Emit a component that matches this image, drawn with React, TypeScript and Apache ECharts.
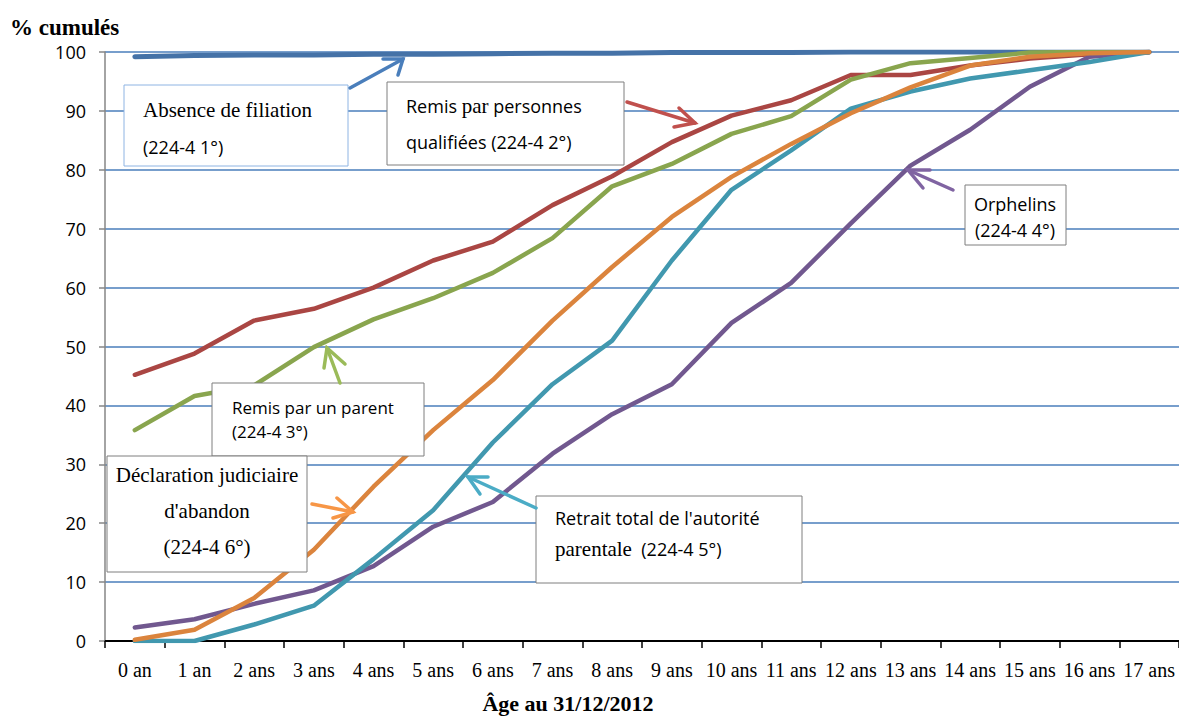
import React, { useEffect, useRef } from "react";
import * as echarts from "echarts";

const categories = ["0 an", "1 an", "2 ans", "3 ans", "4 ans", "5 ans", "6 ans", "7 ans", "8 ans", "9 ans", "10 ans", "11 ans", "12 ans", "13 ans", "14 ans", "15 ans", "16 ans", "17 ans"];
const yTicks = [0, 10, 20, 30, 40, 50, 60, 70, 80, 90, 100];

const absenceFiliation = [99.2, 99.4, 99.5, 99.5, 99.6, 99.6, 99.7, 99.8, 99.8, 99.9, 99.9, 99.9, 100, 100, 100, 100, 100, 100];
const personnesQualifiees = [45.2, 48.8, 54.4, 56.4, 60.0, 64.6, 67.8, 74.0, 78.9, 84.7, 89.2, 91.8, 96.1, 96.1, 97.7, 98.9, 99.6, 100];
const unParent = [35.8, 41.6, 43.4, 49.9, 54.6, 58.2, 62.5, 68.4, 77.2, 81.0, 86.1, 89.1, 95.3, 98.1, 99.0, 99.9, 100, 100];
const orphelins = [2.3, 3.7, 6.3, 8.6, 12.7, 19.4, 23.6, 31.8, 38.5, 43.6, 54.0, 60.8, 70.9, 80.7, 86.8, 94.1, 99.2, 100];
const retraitAutorite = [0, 0, 2.8, 6.0, 13.9, 22.2, 33.7, 43.6, 51.0, 64.6, 76.6, 83.3, 90.4, 93.3, 95.5, 96.9, 98.3, 100];
const declarationJudiciaire = [0.2, 1.9, 7.3, 15.5, 26.2, 35.8, 44.3, 54.4, 63.5, 72.0, 78.8, 84.4, 89.6, 94.0, 97.7, 99.2, 99.8, 100];

const SANS = "Open Sans";
const SERIF = "Liberation Serif";

function arrow(x1: number, y1: number, x2: number, y2: number, a1: [number, number], a2: [number, number], color: string) {
  return [
    { type: "line", z: 100, shape: { x1, y1, x2, y2 }, style: { stroke: color, lineWidth: 3.5, lineCap: "round" } },
    { type: "polyline", z: 100, shape: { points: [a1, [x2, y2], a2] }, style: { stroke: color, lineWidth: 3.5, fill: null, lineCap: "round", lineJoin: "miter" } },
  ];
}

function box(x: number, y: number, w: number, h: number, stroke: string) {
  return { type: "rect", z: 100, shape: { x, y, width: w, height: h }, style: { fill: "#fff", stroke, lineWidth: 1 } };
}

function txt(x: number, y: number, text: string, family: string, size: number, align = "left", extra: any = {}) {
  return {
    type: "text",
    z: 101,
    x,
    y,
    style: { text, fontFamily: family, fontSize: size, fill: "#000", align, verticalAlign: "middle", ...extra },
  };
}

const richStyles = {
  s: { fontFamily: SANS, fontSize: 18, fill: "#000" },
  r: { fontFamily: SERIF, fontSize: 21, fill: "#000" },
};

export default function App() {
  const ref = useRef<HTMLDivElement>(null);
  useEffect(() => {
    if (!ref.current) return;
    const chart = echarts.init(ref.current, null, { renderer: "svg" });
    const mk = (name: string, data: number[], color: string, width = 4.5) => ({
      name,
      type: "line",
      data,
      symbol: "none",
      lineStyle: { color, width, join: "round", cap: "round" },
      itemStyle: { color },
    });
    chart.setOption({
      animation: false,
      backgroundColor: "#ffffff",
      grid: { left: 105, top: 52, width: 1078, height: 589 },
      xAxis: {
        type: "category",
        data: categories,
        boundaryGap: true,
        axisLine: { lineStyle: { color: "#000", width: 2 } },
        axisTick: { show: true, length: 7, lineStyle: { color: "#000", width: 1.5 } },
        axisLabel: { interval: 0, margin: 19, fontFamily: SERIF, fontSize: 20, color: "#000" },
        splitLine: { show: false },
      },
      yAxis: {
        type: "value",
        min: yTicks[0],
        max: yTicks[yTicks.length - 1],
        interval: 10,
        axisLine: { show: true, lineStyle: { color: "#868686", width: 1.5 } },
        axisTick: { show: true, length: 6, lineStyle: { color: "#868686", width: 1.5 } },
        axisLabel: { margin: 19, fontFamily: SANS, fontSize: 18, color: "#000" },
        splitLine: { lineStyle: { color: "#4A7EBB", width: 1.5 } },
      },
      series: [
        mk("Absence de filiation (224-4 1°)", absenceFiliation, "#4572A7", 5),
        mk("Remis par personnes qualifiées (224-4 2°)", personnesQualifiees, "#AA4643"),
        mk("Remis par un parent (224-4 3°)", unParent, "#89A54E"),
        mk("Orphelins (224-4 4°)", orphelins, "#71588F"),
        mk("Retrait total de l'autorité parentale (224-4 5°)", retraitAutorite, "#4198AF"),
        mk("Déclaration judiciaire d'abandon (224-4 6°)", declarationJudiciaire, "#DB843D"),
      ],
      graphic: [
        txt(10, 27, "% cumulés", SERIF, 23, "left", { fontWeight: "bold" }),
        txt(568, 703, "Âge au 31/12/2012", SERIF, 22, "center", { fontWeight: "bold" }),

        box(124, 85, 224, 81, "#8EB4E3"),
        txt(143, 110, "Absence de filiation", SERIF, 21),
        txt(143, 147, "(224-4 1°)", SANS, 18),
        ...arrow(350, 88, 403, 59, [383, 59], [398, 75], "#4A7EBB"),

        box(387, 82, 237, 83, "#7F7F7F"),
        txt(406, 106, "{s|Remis} {r|par} {s|personnes}", SANS, 18, "left", { rich: richStyles }),
        txt(406, 142, "qualifiées (224-4 2°)", SANS, 18),
        ...arrow(627, 102, 695, 123, [679, 108], [674, 127], "#C0504D"),

        box(212, 383, 212, 73, "#7F7F7F"),
        txt(232, 407, "Remis par un parent", SANS, 17),
        txt(232, 431, "(224-4 3°)", SANS, 17),
        ...arrow(340, 383, 327, 348, [345, 364], [324, 368], "#9BBB59"),

        box(107, 456, 200, 116, "#7F7F7F"),
        txt(207, 475, "Déclaration judiciaire", SERIF, 21, "center"),
        txt(207, 511, "d'abandon", SERIF, 21, "center"),
        txt(207, 547, "(224-4 6°)", SERIF, 21, "center"),
        ...arrow(312, 504, 353, 512, [337, 498], [333, 518], "#F79646"),

        box(536, 496, 266, 87, "#7F7F7F"),
        txt(555, 518, "Retrait total de l'autorité", SANS, 18),
        txt(555, 549, "{r|parentale}  {s|(224-4 5°)}", SANS, 18, "left", { rich: richStyles }),
        ...arrow(536, 508, 468, 477, [488, 477], [480, 494], "#4BACC6"),

        box(965, 185, 101, 60, "#7F7F7F"),
        txt(1015, 204, "Orphelins", SANS, 18, "center"),
        txt(1015, 230, "(224-4 4°)", SANS, 18, "center"),
        ...arrow(953, 190, 908, 170, [930, 170], [923, 188], "#8064A2"),
      ],
    });
    return () => chart.dispose();
  }, []);
  return <div ref={ref} style={{ position: "fixed", left: 0, top: 0, width: 1179, height: 716, background: "#fff" }} />;
}
